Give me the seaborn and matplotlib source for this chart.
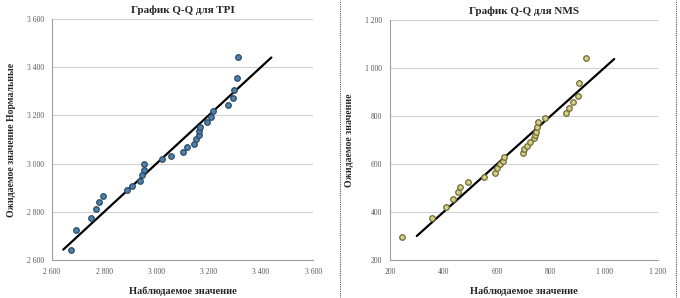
#import the libraries
import numpy as np
import pandas as pd
import matplotlib
matplotlib.use('Agg')
import matplotlib.pyplot as plt
import matplotlib.ticker as mticker
from matplotlib.lines import Line2D
import seaborn as sns

# data
# TPI: observed value vs expected normal value
tpi_observed = [2672, 2692, 2749, 2769, 2781, 2794, 2888, 2905, 2937, 2946,
                2951, 2954, 3020, 3055, 3101, 3116, 3144, 3152, 3161, 3163,
                3167, 3193, 3208, 3218, 3273, 3292, 3298, 3310, 3314]
tpi_expected = [2641, 2724, 2774, 2810, 2839, 2867, 2890, 2908, 2929, 2951,
                2975, 3000, 3018, 3033, 3049, 3067, 3081, 3101, 3119, 3137,
                3151, 3174, 3195, 3217, 3242, 3271, 3305, 3356, 3441]
tpi_line = [2643, 3440]

# NMS: observed value vs expected normal value
nms_observed = [244, 356, 409, 436, 455, 461, 490, 552, 592, 600,
                610, 623, 626, 695, 700, 710, 722, 738, 741, 745,
                750, 753, 777, 857, 867, 884, 901, 904, 930]
nms_expected = [297, 375, 420, 454, 482, 505, 526, 547, 564, 582,
                600, 614, 630, 647, 661, 675, 693, 710, 721, 735,
                753, 774, 790, 810, 832, 857, 883, 937, 1040]
nms_line = [300, 1037]

tpi_ticks = [2600, 2800, 3000, 3200, 3400, 3600]
nms_ticks = [200, 400, 600, 800, 1000, 1200]

titles = ['График Q-Q для TPI', 'График Q-Q для NMS']
xlabel = 'Наблюдаемое значение'
ylabels = ['Ожидаемое значение Нормальные', 'Ожидаемое значение']

sns.set_style('white')
plt.rcParams['font.family'] = ['Liberation Serif', 'DejaVu Serif']


def space_fmt(v, pos):
    # thousands separated by a space
    return '{:,.0f}'.format(v).replace(',', ' ')


def qq_panel(ax, obs, exp, line, ticks, title, ylabel, face, edge):
    df = pd.DataFrame({'obs': obs, 'exp': exp})
    sns.scatterplot(data=df, x='obs', y='exp', ax=ax, s=16, color=face,
                    edgecolor=edge, linewidth=0.9, zorder=3)
    sns.lineplot(x=line, y=line, ax=ax, color='black', linewidth=1.6, zorder=2)

    ax.set_xlim(ticks[0], ticks[-1])
    ax.set_ylim(ticks[0], ticks[-1])
    ax.set_xticks(ticks)
    ax.set_yticks(ticks)
    ax.xaxis.set_major_formatter(mticker.FuncFormatter(space_fmt))
    ax.yaxis.set_major_formatter(mticker.FuncFormatter(space_fmt))
    ax.tick_params(labelsize=5.5, colors='#555555', length=2, width=0.6)
    ax.yaxis.grid(True, color='#d0d0d0', linewidth=0.8)
    ax.set_axisbelow(True)

    sns.despine(ax=ax)
    for side in ['left', 'bottom']:
        ax.spines[side].set_color('#a0a0a0')
        ax.spines[side].set_linewidth(0.8)

    ax.set_title(title, fontsize=8, fontweight='bold', pad=4)
    ax.set_xlabel(xlabel, fontsize=7.5, fontweight='bold', labelpad=8)
    ax.set_ylabel(ylabel, fontsize=7, fontweight='bold', labelpad=8)


fig = plt.figure(figsize=(6.8, 2.98), dpi=100)
ax1 = fig.add_axes([0.0765, 0.1275, 0.384, 0.809])
ax2 = fig.add_axes([0.5735, 0.1275, 0.394, 0.806])

qq_panel(ax1, tpi_observed, tpi_expected, tpi_line, tpi_ticks, titles[0], ylabels[0],
         '#4f81ad', '#2c4a66')
qq_panel(ax2, nms_observed, nms_expected, nms_line, nms_ticks, titles[1], ylabels[1],
         '#d6cf86', '#6e6a35')

# dotted separators between the two charts
for xf in [0.5, 0.994]:
    fig.add_artist(Line2D([xf, xf], [0, 1], transform=fig.transFigure,
                          color='#555555', linestyle=(0, (1, 1)), linewidth=0.8))

fig.savefig('out.png', dpi=100)
